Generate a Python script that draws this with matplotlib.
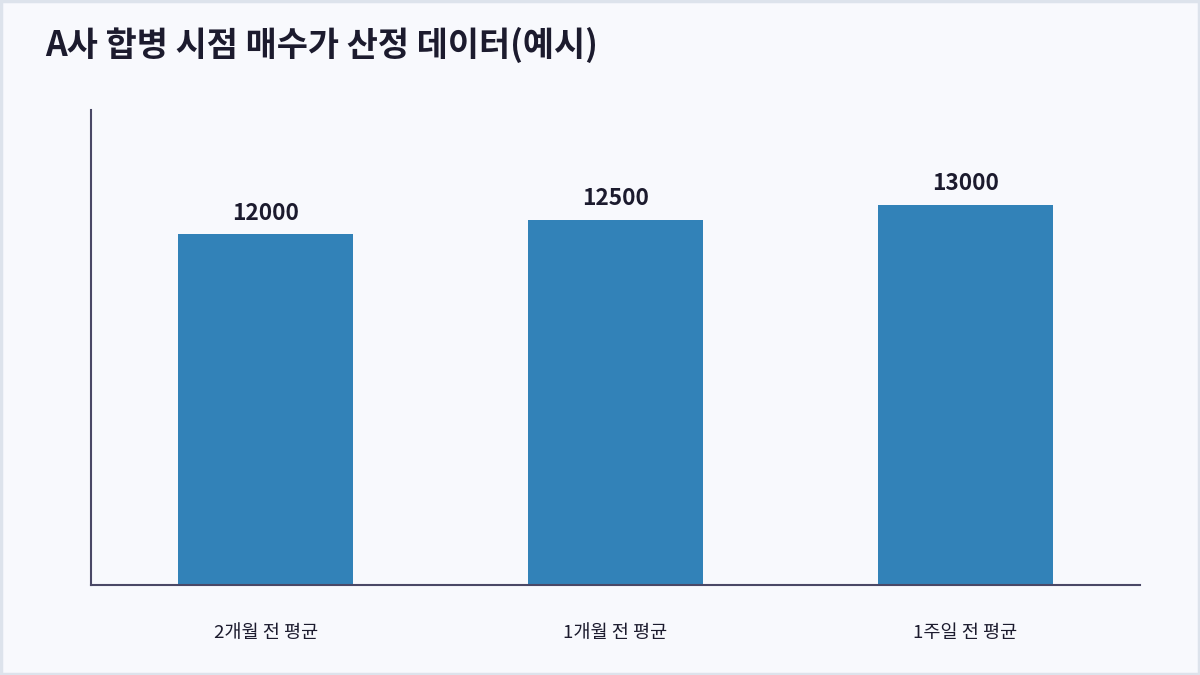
import matplotlib.pyplot as plt
from matplotlib.patches import Rectangle

plt.rcParams['font.family'] = ['Noto Sans CJK KR', 'DejaVu Sans']

# data
categories = ["2개월 전 평균", "1개월 전 평균", "1주일 전 평균"]
values = [12000, 12500, 13000]
title = "A사 합병 시점 매수가 산정 데이터(예시)"

BG = '#f8f9fd'
BAR = '#3282b8'
AXIS = '#4a4866'
TEXT = '#1c1b2e'

fig = plt.figure(figsize=(12, 6.75), dpi=100, facecolor=BG)
# outer border
fig.patches.append(Rectangle((0.001, 0.002), 0.998, 0.996, transform=fig.transFigure,
                             fill=False, edgecolor='#dde3ec', linewidth=2.5))

ax = fig.add_axes([91 / 1200, 1 - 585 / 675, 1049 / 1200, 475 / 675])
ax.set_facecolor(BG)

x = range(len(categories))
bars = ax.bar(x, values, width=0.5, color=BAR, zorder=2)
for b, v in zip(bars, values):
    ax.annotate(f"{v}", (b.get_x() + b.get_width() / 2, v), xytext=(0, 7),
                textcoords='offset points', ha='center', va='bottom',
                fontsize=16.3, fontweight='bold', color=TEXT)

ax.set_xlim(-0.5, len(categories) - 0.5)
ax.set_ylim(0, max(values) * 1.25)
ax.set_xticks(list(x))
ax.set_xticklabels(categories, fontsize=13.4, color=TEXT, fontweight='medium')
ax.tick_params(axis='x', length=0, pad=28)
ax.set_yticks([])

for s in ['top', 'right']:
    ax.spines[s].set_visible(False)
for s in ['left', 'bottom']:
    ax.spines[s].set_color(AXIS)
    ax.spines[s].set_linewidth(1.5)

fig.text(45 / 1200, 1 - 45 / 675, title, fontsize=24.4, fontweight='bold',
         color=TEXT, ha='left', va='center')

fig.savefig('out.png', dpi=100, facecolor=BG)
